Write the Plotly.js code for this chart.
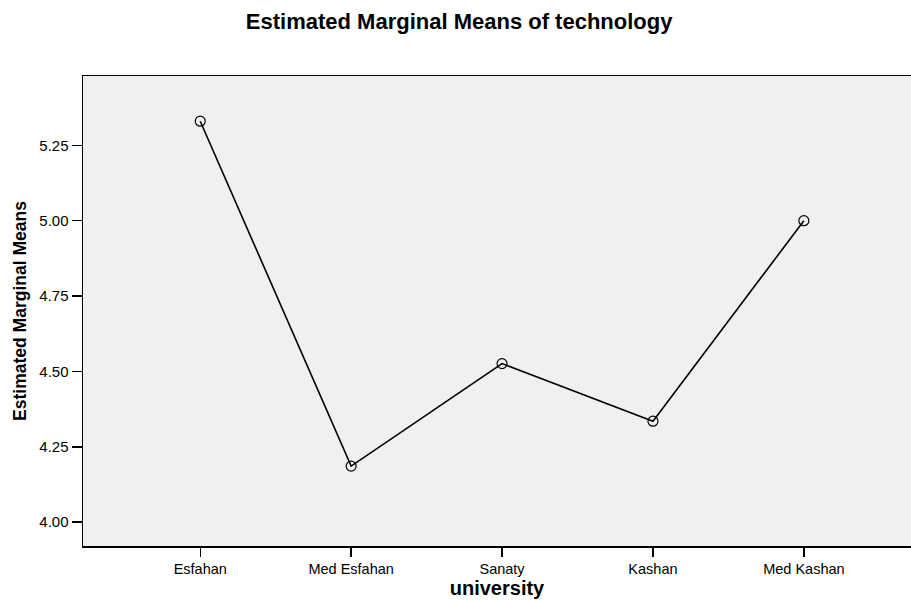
<!DOCTYPE html>
<html>
<head>
<meta charset="utf-8">
<script src="https://cdn.plot.ly/plotly-3.0.1.min.js"></script>
<style>html,body{margin:0;padding:0;background:#fff;}#chart{width:911px;height:600px;}</style>
</head>
<body>
<div id="chart"></div>
<script>
const categories = ["Esfahan", "Med Esfahan", "Sanaty", "Kashan", "Med Kashan"];
const means = [5.33, 4.186, 4.526, 4.335, 5.00];
const yTickValues = [4.00, 4.25, 4.50, 4.75, 5.00, 5.25];

const trace = {
  type: "scatter",
  mode: "lines+markers",
  x: categories,
  y: means,
  line: {color: "#000", width: 1.6},
  marker: {symbol: "circle-open", size: 10, color: "#000", line: {color: "#000", width: 1.2}},
  hoverinfo: "x+y",
  showlegend: false
};

const layout = {
  width: 911,
  height: 600,
  margin: {l: 83, r: 0, t: 76, b: 54, pad: 0},
  paper_bgcolor: "#ffffff",
  plot_bgcolor: "#f0f0f0",
  font: {family: "Liberation Sans, Arial, sans-serif", color: "#000"},
  title: {
    text: "<b>Estimated Marginal Means of technology</b>",
    font: {family: "Liberation Sans, Arial, sans-serif", size: 22, color: "#000"},
    x: 0.504, xref: "container", xanchor: "center",
    y: 0.965, yref: "container", yanchor: "middle"
  },
  xaxis: {
    type: "category",
    range: [-0.777, 4.71],
    showgrid: false, zeroline: false,
    showline: true, linecolor: "#000", linewidth: 1.5, mirror: true,
    ticks: "outside", ticklen: 9, tickwidth: 1.5, tickcolor: "#000",
    tickfont: {size: 14.5, color: "#000"},
    title: {text: "<b>university</b>", font: {size: 20, color: "#000"}, standoff: 5}
  },
  yaxis: {
    range: [3.921, 5.48],
    tickvals: yTickValues,
    ticktext: yTickValues.map(v => v.toFixed(2)),
    showgrid: false, zeroline: false,
    showline: true, linecolor: "#000", linewidth: 1.5,
    ticks: "outside", ticklen: 10, tickwidth: 1.5, tickcolor: "#000",
    tickfont: {size: 15, color: "#000"},
    title: {text: "<b>Estimated Marginal Means</b>", font: {family: "Liberation Sans, Arial, sans-serif", size: 17.5, color: "#000"}, standoff: 8}
  }
};

Plotly.newPlot("chart", [trace], layout, {displayModeBar: false, staticPlot: true});
</script>
</body>
</html>
